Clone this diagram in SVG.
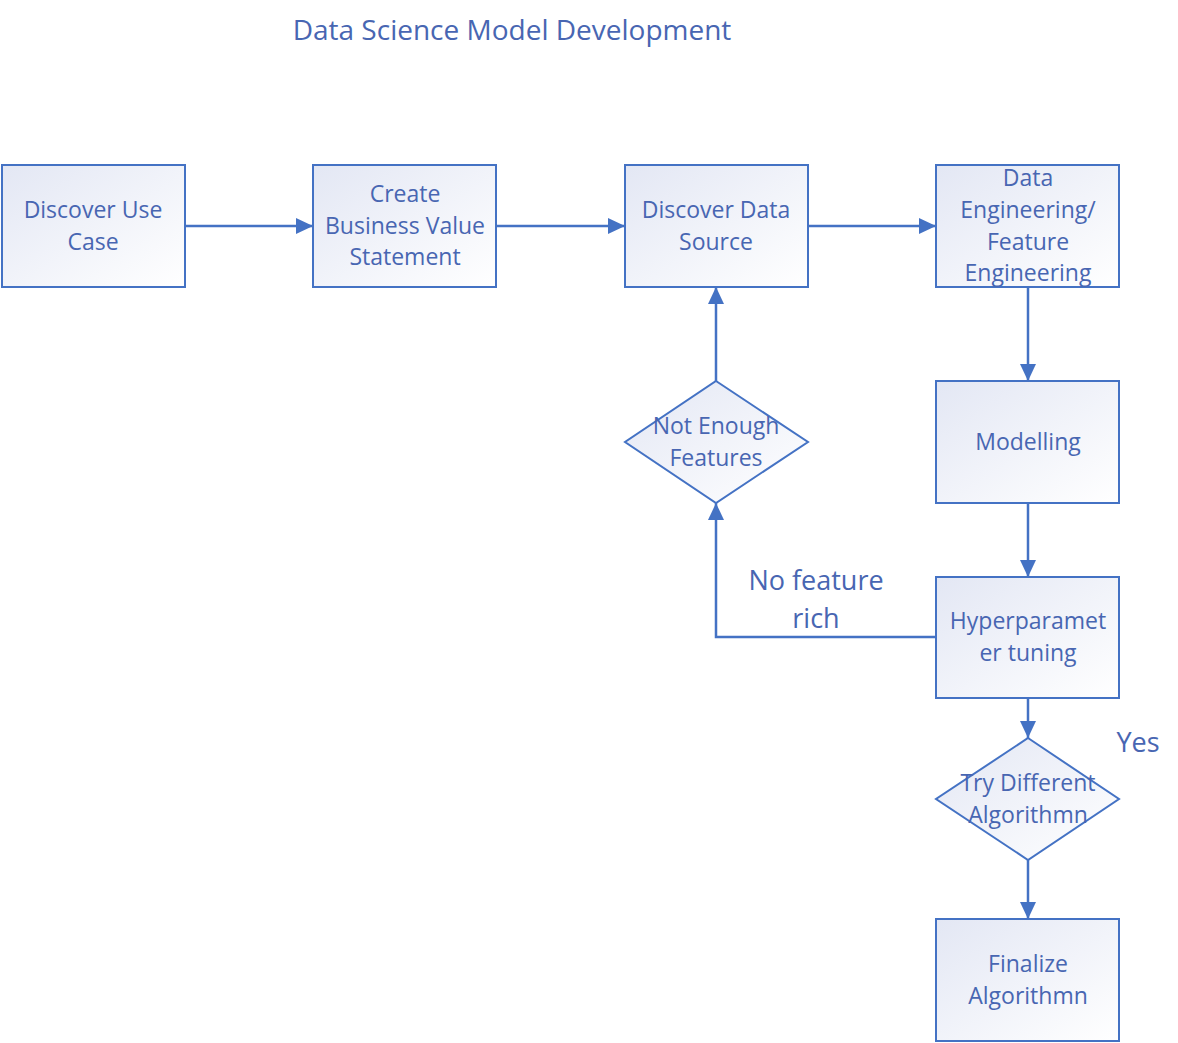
<svg xmlns="http://www.w3.org/2000/svg" width="1178" height="1043" viewBox="0 0 1178 1043">
<defs>
<linearGradient id="g" x1="0" y1="0" x2="1" y2="1">
<stop offset="0" stop-color="#e3e7f4"/>
<stop offset="1" stop-color="#ffffff"/>
</linearGradient>
<marker id="arr" viewBox="0 0 17 16" refX="17" refY="8" markerWidth="17" markerHeight="16" markerUnits="userSpaceOnUse" orient="auto">
<path d="M0,0 L17,8 L0,16 z" fill="#4472c4"/>
</marker>
<style>
.n{fill:url(#g);stroke:#4472c4;stroke-width:2}
.t{font-family:"Open Sans","Noto Sans",sans-serif;font-size:23px;fill:#4866b2;text-anchor:middle}
.l{font-family:"Open Sans","Noto Sans",sans-serif;font-size:27px;fill:#4866b2;text-anchor:middle}
.c{fill:none;stroke:#4472c4;stroke-width:2.5;marker-end:url(#arr)}
</style>
</defs>
<rect width="1178" height="1043" fill="#ffffff"/>
<text x="512" y="40" font-family="Open Sans, Noto Sans, sans-serif" font-size="28" fill="#4866b2" text-anchor="middle">Data Science Model Development</text>

<g id="connectors">
<path class="c" d="M185,226 H313"/>
<path class="c" d="M496,226 H625"/>
<path class="c" d="M808,226 H936"/>
<path class="c" d="M1028,287 V381"/>
<path class="c" d="M1028,503 V577"/>
<path class="c" d="M1028,698 V738"/>
<path class="c" d="M1028,860 V919"/>
<path class="c" d="M936,637 H716 V503"/>
<path class="c" d="M716,381 V287"/>
<text class="l" x="816" y="590">No feature</text>
<text class="l" x="816" y="628">rich</text>
<text class="l" x="1138" y="752">Yes</text>
</g>

<g id="n1"><rect class="n" x="2" y="165" width="183" height="122"/>
<text class="t" x="93" y="218">Discover Use</text><text class="t" x="93" y="250">Case</text></g>

<g id="n2"><rect class="n" x="313" y="165" width="183" height="122"/>
<text class="t" x="405" y="202">Create</text><text class="t" x="405" y="234">Business Value</text><text class="t" x="405" y="265">Statement</text></g>

<g id="n3"><rect class="n" x="625" y="165" width="183" height="122"/>
<text class="t" x="716" y="218">Discover Data</text><text class="t" x="716" y="250">Source</text></g>

<g id="n4"><rect class="n" x="936" y="165" width="183" height="122"/>
<text class="t" x="1028" y="186">Data</text><text class="t" x="1028" y="218">Engineering/</text><text class="t" x="1028" y="250">Feature</text><text class="t" x="1028" y="281">Engineering</text></g>

<g id="n5"><rect class="n" x="936" y="381" width="183" height="122"/>
<text class="t" x="1028" y="450">Modelling</text></g>

<g id="n6"><rect class="n" x="936" y="577" width="183" height="121"/>
<text class="t" x="1028" y="629">Hyperparamet</text><text class="t" x="1028" y="661">er tuning</text></g>

<g id="n7"><rect class="n" x="936" y="919" width="183" height="122"/>
<text class="t" x="1028" y="972">Finalize</text><text class="t" x="1028" y="1004">Algorithmn</text></g>

<g id="d1"><path class="n" d="M716,381 L808,442 L716,503 L625,442 Z"/>
<text class="t" x="716" y="434">Not Enough</text><text class="t" x="716" y="466">Features</text></g>

<g id="d2"><path class="n" d="M1028,738 L1119,799 L1028,860 L936,799 Z"/>
<text class="t" x="1028" y="791">Try Different</text><text class="t" x="1028" y="823">Algorithmn</text></g>
</svg>
